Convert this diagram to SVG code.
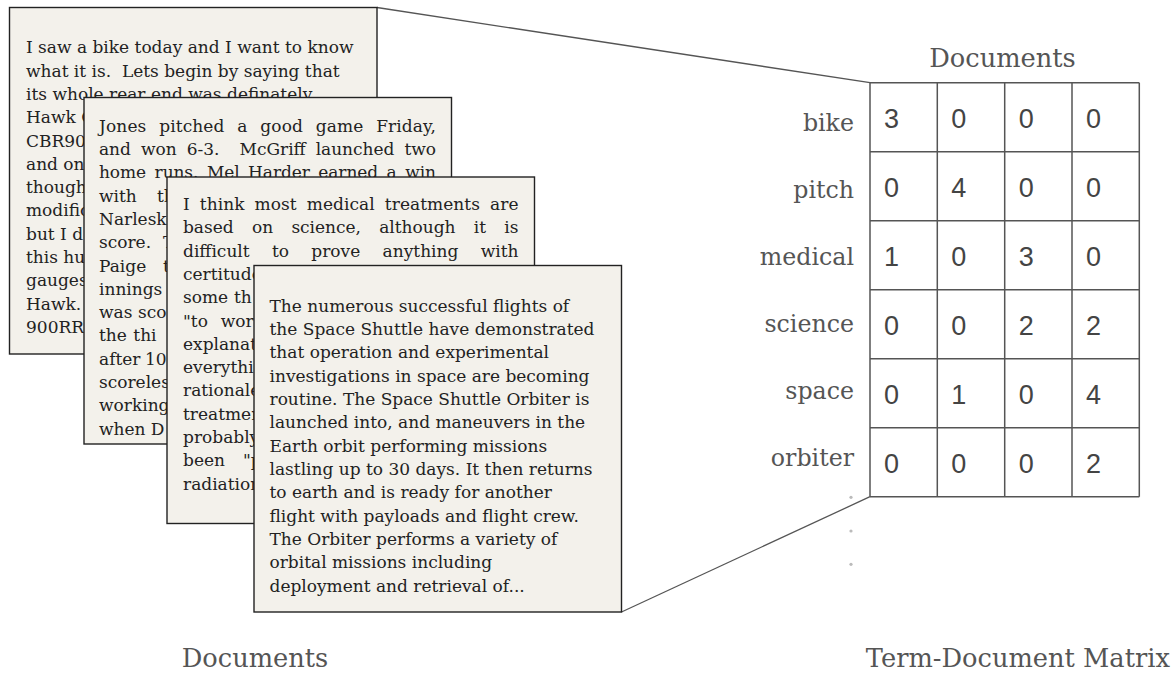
<svg xmlns="http://www.w3.org/2000/svg" width="1175" height="674" viewBox="0 0 1175 674">
<style>
.doc rect{fill:#f3f1eb;stroke:#222;stroke-width:1.4}
.body{font-family:"DejaVu Serif","Liberation Serif",serif;font-size:17px;fill:#222}
.lbl{font-family:"DejaVu Serif","Liberation Serif",serif;font-size:23.7px;fill:#555;text-anchor:end}
.hdr{font-family:"DejaVu Serif","Liberation Serif",serif;font-size:25.7px;fill:#555}
.num{font-family:"Liberation Sans",Arial,sans-serif;font-size:27px;fill:#444}
.grid line{stroke:#555;stroke-width:1.5}
.conn line{stroke:#555;stroke-width:1.3}
.dot{fill:#bbb}
</style>
<rect width="1175" height="674" fill="#fff"/>
<g id="connectors" class="conn">
<line x1="377" y1="7.5" x2="870" y2="82.7"/>
<line x1="621.5" y1="612" x2="870" y2="496.7"/>
</g>
<g id="doc-1" class="doc">
<rect x="9.5" y="7.5" width="367.5" height="346.5"/>
<text class="body" x="26" y="53.3">I saw a bike today and I want to know</text>
<text class="body" x="26" y="76.6" xml:space="preserve">what it is.  Lets begin by saying that</text>
<text class="body" x="26" y="99.9">its whole rear end was definately</text>
<text class="body" x="26" y="123.2">Hawk C</text>
<text class="body" x="26" y="146.5">CBR900</text>
<text class="body" x="26" y="169.8">and on</text>
<text class="body" x="26" y="193.1">though</text>
<text class="body" x="26" y="216.4">modific</text>
<text class="body" x="26" y="239.7">but I d</text>
<text class="body" x="26" y="263">this hu</text>
<text class="body" x="26" y="286.3">gauges</text>
<text class="body" x="26" y="309.6">Hawk.</text>
<text class="body" x="26" y="332.9">900RR</text>
</g>
<g id="doc-2" class="doc">
<rect x="84" y="97.5" width="367.5" height="346.5"/>
<text class="body" x="99" y="131.7" style="word-spacing:7.2px" textLength="337" lengthAdjust="spacing">Jones pitched a good game Friday,</text>
<text class="body" x="99" y="155" xml:space="preserve" style="word-spacing:4.7px" textLength="337" lengthAdjust="spacing">and won 6-3.  McGriff launched two</text>
<text class="body" x="99" y="178.3" style="word-spacing:3.25px" textLength="337" lengthAdjust="spacing">home runs. Mel Harder earned a win</text>
<text class="body" y="201.6"><tspan x="99">with</tspan><tspan x="157">the</tspan></text>
<text class="body" x="99" y="224.9">Narleski</text>
<text class="body" y="248.2"><tspan x="99">score.</tspan><tspan x="163">T</tspan></text>
<text class="body" y="271.5"><tspan x="99">Paige</tspan><tspan x="163">t</tspan></text>
<text class="body" x="99" y="294.8">innings</text>
<text class="body" y="318.1"><tspan x="99">was</tspan><tspan x="138">sco</tspan></text>
<text class="body" y="341.4"><tspan x="99">the</tspan><tspan x="133.3">thi</tspan></text>
<text class="body" y="364.7"><tspan x="99">after</tspan><tspan x="145">10</tspan></text>
<text class="body" x="99" y="388">scoreless</text>
<text class="body" x="99" y="411.3">working</text>
<text class="body" y="434.6"><tspan x="99">when</tspan><tspan x="150.7">D</tspan></text>
</g>
<g id="doc-3" class="doc">
<rect x="167" y="177" width="367.5" height="346.5"/>
<text class="body" x="183" y="210" style="word-spacing:4.6px" textLength="335.5" lengthAdjust="spacing">I think most medical treatments are</text>
<text class="body" x="183" y="233.3" style="word-spacing:12.9px" textLength="335.5" lengthAdjust="spacing">based on science, although it is</text>
<text class="body" x="183" y="256.6" style="word-spacing:16.9px" textLength="335.5" lengthAdjust="spacing">difficult to prove anything with</text>
<text class="body" x="183" y="279.9">certitude</text>
<text class="body" y="303.2"><tspan x="183">some</tspan><tspan x="234">th</tspan></text>
<text class="body" y="326.5"><tspan x="183">"to</tspan><tspan x="220.7">wor</tspan></text>
<text class="body" x="183" y="349.8">explanation</text>
<text class="body" x="183" y="373.1">everything</text>
<text class="body" x="183" y="396.4">rationale</text>
<text class="body" x="183" y="419.7">treatment</text>
<text class="body" x="183" y="443">probably</text>
<text class="body" y="466.3"><tspan x="183">been</tspan><tspan x="243">"p</tspan></text>
<text class="body" x="183" y="489.6">radiation</text>
</g>
<g id="doc-4" class="doc">
<rect x="254" y="265.5" width="367.5" height="346.5"/>
<text class="body" x="269.5" y="311.7">The numerous successful flights of</text>
<text class="body" x="269.5" y="335">the Space Shuttle have demonstrated</text>
<text class="body" x="269.5" y="358.4">that operation and experimental</text>
<text class="body" x="269.5" y="381.7">investigations in space are becoming</text>
<text class="body" x="269.5" y="405">routine. The Space Shuttle Orbiter is</text>
<text class="body" x="269.5" y="428.4">launched into, and maneuvers in the</text>
<text class="body" x="269.5" y="451.7">Earth orbit performing missions</text>
<text class="body" x="269.5" y="475">lastling up to 30 days. It then returns</text>
<text class="body" x="269.5" y="498.4">to earth and is ready for another</text>
<text class="body" x="269.5" y="521.7">flight with payloads and flight crew.</text>
<text class="body" x="269.5" y="545">The Orbiter performs a variety of</text>
<text class="body" x="269.5" y="568.4">orbital missions including</text>
<text class="body" x="269.5" y="591.7">deployment and retrieval of...</text>
</g>
<g id="matrix">
<text class="hdr" x="1002.5" y="66.7" text-anchor="middle">Documents</text>
<g class="grid">
<line x1="870" y1="82.7" x2="1139.3" y2="82.7"/>
<line x1="870" y1="151.7" x2="1139.3" y2="151.7"/>
<line x1="870" y1="220.7" x2="1139.3" y2="220.7"/>
<line x1="870" y1="289.7" x2="1139.3" y2="289.7"/>
<line x1="870" y1="358.7" x2="1139.3" y2="358.7"/>
<line x1="870" y1="427.7" x2="1139.3" y2="427.7"/>
<line x1="870" y1="496.7" x2="1139.3" y2="496.7"/>
<line x1="870" y1="82.7" x2="870" y2="496.7"/>
<line x1="937.3" y1="82.7" x2="937.3" y2="496.7"/>
<line x1="1004.7" y1="82.7" x2="1004.7" y2="496.7"/>
<line x1="1072" y1="82.7" x2="1072" y2="496.7"/>
<line x1="1139.3" y1="82.7" x2="1139.3" y2="496.7"/>
</g>
<g id="row-labels">
<text class="lbl" x="854" y="131">bike</text>
<text class="lbl" x="854" y="198">pitch</text>
<text class="lbl" x="854" y="265">medical</text>
<text class="lbl" x="854" y="332">science</text>
<text class="lbl" x="854" y="399">space</text>
<text class="lbl" x="854" y="466">orbiter</text>
</g>
<g id="cells" class="num">
<text x="884" y="128.3">3</text><text x="951.3" y="128.3">0</text><text x="1018.7" y="128.3">0</text><text x="1086" y="128.3">0</text>
<text x="884" y="197.3">0</text><text x="951.3" y="197.3">4</text><text x="1018.7" y="197.3">0</text><text x="1086" y="197.3">0</text>
<text x="884" y="266.3">1</text><text x="951.3" y="266.3">0</text><text x="1018.7" y="266.3">3</text><text x="1086" y="266.3">0</text>
<text x="884" y="335.3">0</text><text x="951.3" y="335.3">0</text><text x="1018.7" y="335.3">2</text><text x="1086" y="335.3">2</text>
<text x="884" y="404.3">0</text><text x="951.3" y="404.3">1</text><text x="1018.7" y="404.3">0</text><text x="1086" y="404.3">4</text>
<text x="884" y="473.3">0</text><text x="951.3" y="473.3">0</text><text x="1018.7" y="473.3">0</text><text x="1086" y="473.3">2</text>
</g>
<circle class="dot" cx="851" cy="497.3" r="1.6"/>
<circle class="dot" cx="851" cy="531" r="1.6"/>
<circle class="dot" cx="851" cy="564.3" r="1.6"/>
</g>
<g id="captions">
<text class="hdr" x="181.7" y="667">Documents</text>
<text class="hdr" x="1170" y="667" text-anchor="end">Term-Document Matrix</text>
</g>
</svg>
